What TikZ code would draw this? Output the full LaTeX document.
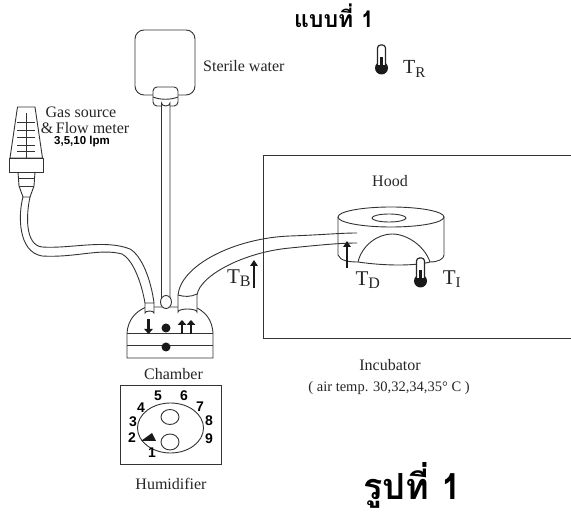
\documentclass[tikz,border=0pt]{standalone}
\usepackage{fontspec}
\setmainfont{Liberation Serif}
\setsansfont{Liberation Sans}
\newfontfamily\thaifont[Script=Thai]{Loma}
\usetikzlibrary{arrows.meta}
\tikzset{
 ln/.style={draw=black!80,line width=0.9pt},
 lab/.style={inner sep=0pt,font=\fontsize{16}{17}\selectfont,text=black!85},
 tsym/.style={inner sep=0pt,font=\fontsize{21}{22}\selectfont,text=black!85},
 dgt/.style={inner sep=0pt,font=\sffamily\bfseries\fontsize{14}{15}\selectfont},
 flowarrow/.style={line width=2pt,-{Triangle[length=6pt,width=7.5pt]},black!90},
 fatarrow/.style={line width=2.8pt,-{Triangle[length=5pt,width=8.5pt]},black!90},
 pics/thermo/.style={code={
  \fill[black!90] (0,8) circle (6.5);
  \draw[black!85,line width=1.2pt,fill=white,rounded corners=3pt] (-4,5) -- (-4,-15) -- (4,-15) -- (4,5);
  \fill[black!90] (-1.8,8) rectangle (1.8,-3);
 }}
}
\begin{document}
\begin{tikzpicture}[x=1pt,y=-1pt]
\useasboundingbox[fill=white] (0,0) rectangle (571,518);
% titles
\node[inner sep=0pt,anchor=base] (title) at (334,28) {\thaifont\bfseries\fontsize{23}{25}\selectfont แบบที่ 1};
\node[inner sep=0pt,anchor=base] (fig) at (412.5,500) {\thaifont\bfseries\fontsize{36}{40}\selectfont รูปที่ 1};
% sterile water
\draw[ln,rounded corners=9pt] (135,30) rectangle (195,95);
\draw[ln,fill=white,rounded corners=4pt] (153,106) -- (153,87) -- (178,87) -- (178,106) -- cycle;
\draw[ln] (153,97) .. controls (160,100) and (171,100) .. (178,97);
\node[lab,anchor=west] (sw) at (203,66.5) {Sterile water};
\coordinate (wt) at (161.5,103);
\coordinate (wb) at (161.5,300);
\coordinate (wt2) at (170,103);
\coordinate (wb2) at (170,300);
\fill[white] (wt) rectangle (wb2);
\draw[ln] (wb) -- (wt) arc[start angle=180,end angle=0,x radius=4.25,y radius=3] -- (wb2);
% flow meter
\draw[ln] (17.5,107) -- (35,107) -- (42.5,158) -- (10,158) -- cycle;
\draw[ln] (9,158) rectangle (43,172);
\draw[ln] (26,113) -- (26,158);
\foreach \yy in {122,130,137,145,151} \draw[ln] (17,\yy) -- (35,\yy);
\draw[ln] (18,172) -- (19,186) -- (23,197) -- (30,197) -- (34,186) -- (35,172);
\draw[ln] (18.5,178) -- (34.5,178);
\draw[ln] (19,186) -- (34,186);
\node[lab,anchor=center] (gas) at (81,112) {Gas source};
\node[lab,anchor=center] (flow) at (85,128) {\&\,Flow meter};
\node[inner sep=0pt,font=\sffamily\bfseries\fontsize{11.5}{12}\selectfont] (lpm) at (82,142) {3,5,10 lpm};
% gas tube
\coordinate (gA) at (23,197);
\coordinate (gB) at (30,197);
\coordinate (gC) at (145,303);
\coordinate (gD) at (154,303);
\draw[ln] (gA) .. controls (18,215) and (18,252) .. (42,256) .. controls (75,258) and (100,248) .. (122,254) .. controls (132,259) and (141,280) .. (gC);
\draw[ln] (gB) .. controls (26,215) and (25,245) .. (42,247) .. controls (70,249) and (105,239) .. (130,249) .. controls (142,256) and (151,280) .. (gD);
% outlet tube to hood
\coordinate (oA) at (178,295);
\coordinate (oB) at (197,295);
\draw[ln] (oA) .. controls (181,265) and (235,238) .. (290,236) .. controls (320,235) and (340,233) .. (357,233);
\draw[ln] (oB) .. controls (200,275) and (245,252) .. (290,248) .. controls (320,245) and (340,243) .. (357,243);
% chamber
\draw[ln] (127,333) .. controls (128,320) and (135,312) .. (146,307) -- (195,307) .. controls (206,312) and (212,320) .. (213,333) -- (213,358) -- (127,358) -- cycle;
\draw[ln] (127,333) -- (213,333);
\draw[ln] (127,345) -- (213,345);
\draw[ln,fill=white] (145,303) -- (145,313) arc[start angle=180,end angle=360,x radius=4.5,y radius=2] -- (154,303) -- cycle;
\draw[ln,fill=white] (166,302) ellipse (5.5 and 6.5);
\draw[ln,fill=white] (178,295) -- (178,312) arc[start angle=180,end angle=360,x radius=9.5,y radius=3] -- (197,295);
\draw[ln] (178,295) .. controls (184,297) and (191,297) .. (197,294);
\draw[fatarrow] (148.5,319) -- (148.5,334);
\draw[fatarrow] (182,334) -- (182,320);
\draw[fatarrow] (191,334) -- (191,320);
\fill[black!90] (166,328) circle (4.5);
\fill[black!90] (166,347) circle (4.5);
\node[lab] (ch) at (173.5,374) {Chamber};
% humidifier
\draw[ln] (120,385) rectangle (221,464);
\draw[ln] (170.5,428) ellipse (33 and 25);
\draw[ln] (170,417) ellipse (9 and 7.5);
\draw[ln] (170,442) ellipse (9 and 8);
\fill[black!90] (141,441) -- (152,433) -- (156,441) -- cycle;
\node[dgt] (d5) at (158,396) {5};
\node[dgt] (d6) at (184,396) {6};
\node[dgt] (d7) at (200,407) {7};
\node[dgt] (d4) at (141,408) {4};
\node[dgt] (d3) at (133,422) {3};
\node[dgt] (d8) at (209,421) {8};
\node[dgt] (d2) at (132,438) {2};
\node[dgt] (d9) at (209,439) {9};
\node[dgt] (d1) at (152,453) {1};
\node[lab] (hu) at (171,484) {Humidifier};
% incubator
\draw[ln] (571,155) -- (263,155) -- (263,338) -- (571,338);
\node[lab] (hood) at (390,181) {Hood};
\node[lab] (inc) at (390,365) {Incubator};
\node[inner sep=0pt,font=\fontsize{14.5}{16}\selectfont,text=black!85] (air) at (389,388) {( air temp. 30,32,34,35\textdegree\ C )};
% hood disc
\draw[ln] (338,217) -- (338,255) .. controls (340,261) and (350,262) .. (358,262) .. controls (385,266) and (415,266) .. (430,262) .. controls (438,262) and (444,259) .. (444,255) -- (444,217);
\draw[ln] (391,217) ellipse (53 and 10);
\draw[ln] (389,218) ellipse (17 and 4);
\draw[ln] (358,262) .. controls (362,245) and (378,234) .. (392,234) .. controls (408,234) and (425,247) .. (430,262);
% T labels
\draw[flowarrow] (347,268) -- (347,241);
\draw[flowarrow] (254,288) -- (254,260);
\node[tsym] (tb) at (239,278) {T\textsubscript{\fontsize{16}{16}\selectfont B}};
\node[tsym] (td) at (368,280) {T\textsubscript{\fontsize{16}{16}\selectfont D}};
\node[tsym] (ti) at (452,279) {T\textsubscript{\fontsize{15}{16}\selectfont I}};
\node[inner sep=0pt,font=\fontsize{20}{21}\selectfont,text=black!85] (tr) at (414.5,69) {T\textsubscript{\fontsize{15}{16}\selectfont R}};
\pic at (420.5,273) {thermo};
\pic at (381.5,60) {thermo};
\end{tikzpicture}
\end{document}
